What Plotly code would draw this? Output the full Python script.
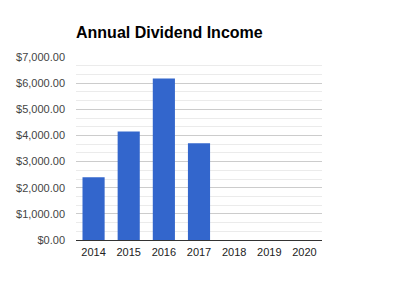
import plotly.graph_objects as go

years = ["2014", "2015", "2016", "2017", "2018", "2019", "2020"]
income = [2400, 4150, 6180, 3700, None, None, None]
y_ticks = [0, 1000, 2000, 3000, 4000, 5000, 6000, 7000]

fig = go.Figure(go.Bar(x=years, y=income, marker_color="#3366cc", marker_line_width=0))

fig.update_layout(
    width=398, height=298,
    margin=dict(l=76, r=76, t=57, b=58),
    paper_bgcolor="white", plot_bgcolor="white",
    font=dict(family="Arial, Liberation Sans, sans-serif", size=11, color="#444"),
    title=dict(text="<b>Annual Dividend Income</b>", x=76/398, xanchor="left",
               y=1 - 38/298, yanchor="bottom",
               font=dict(size=16, color="#000")),
    bargap=0.37,
    showlegend=False,
)
fig.update_yaxes(range=[0, 7000], tickvals=y_ticks, tickformat="$,.2f",
                 showgrid=True, gridcolor="#cccccc", gridwidth=1,
                 minor=dict(dtick=1000/3, showgrid=True, gridcolor="#ebebeb", gridwidth=1),
                 zeroline=False, ticks="", ticklabelstandoff=10,
                 tickfont=dict(size=11, color="#444"))
fig.update_xaxes(showline=True, linecolor="#333333", linewidth=1, ticks="",
                 tickfont=dict(size=11, color="#222"), ticklabelstandoff=2)

fig.write_html("out.html")
